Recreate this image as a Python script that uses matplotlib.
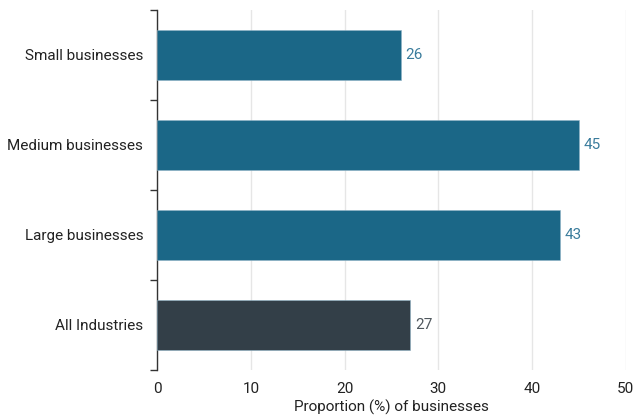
import matplotlib.pyplot as plt
import numpy as np

# Chart data
categories = ["Small businesses", "Medium businesses", "Large businesses", "All Industries"]
values = [26, 45, 43, 27]
bar_colors = ["#1b6787", "#1b6787", "#1b6787", "#333f48"]
label_colors = ["#3a7c9c", "#3a7c9c", "#3a7c9c", "#50585e"]
x_ticks = [0, 10, 20, 30, 40, 50]

plt.rcParams['font.family'] = ['Roboto', 'DejaVu Sans']

fig = plt.figure(figsize=(6.36, 4.16), dpi=100)
ax = fig.add_axes([0.247, 0.1106, 0.737, 0.866])

y = np.arange(len(categories))
ax.barh(y, values, height=0.56, color=bar_colors, edgecolor="#8fb3c6", linewidth=0.4, zorder=3)

for yi, v, c in zip(y, values, label_colors):
    ax.text(v + 0.5, yi, str(v), va="center", ha="left", fontsize=11, color=c)

ax.set_xlim(0, 50)
ax.set_ylim(3.5, -0.5)
ax.set_xticks(x_ticks)
ax.set_yticks(y)
ax.set_yticklabels(categories)
ax.set_yticks(np.arange(-0.5, len(categories), 1.0), minor=True)
ax.tick_params(axis="y", which="major", length=0, pad=10, labelsize=11, colors="#222222")
ax.tick_params(axis="y", which="minor", length=5, width=1, color="#333333", direction="out")
ax.tick_params(axis="x", length=0, pad=9, labelsize=11, colors="#222222")

ax.grid(axis="x", color="#e6e6e6", linewidth=1, zorder=0)
for side in ["top", "right", "bottom"]:
    ax.spines[side].set_visible(False)
ax.spines["left"].set_color("#333333")
ax.spines["left"].set_linewidth(1)

ax.set_xlabel("Proportion (%) of businesses", fontsize=11, color="#222222", labelpad=2)

fig.savefig("out.png", dpi=100)
